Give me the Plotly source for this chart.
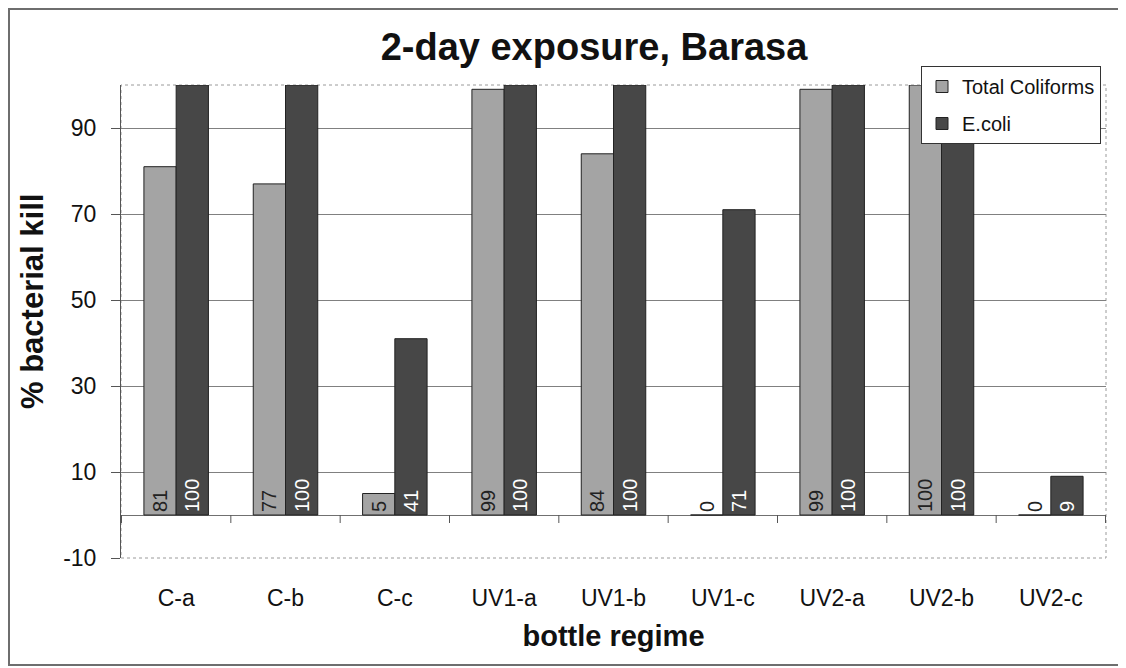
import plotly.graph_objects as go

categories = ["C-a", "C-b", "C-c", "UV1-a", "UV1-b", "UV1-c", "UV2-a", "UV2-b", "UV2-c"]
total_coliforms = [81, 77, 5, 99, 84, 0, 99, 100, 0]
e_coli = [100, 100, 41, 100, 100, 71, 100, 100, 9]
y_ticks = [-10, 10, 30, 50, 70, 90]

FONT = "Liberation Sans, Arial, sans-serif"
OFF = 8  # page body margin
W, H = 1118, 660
PL, PR, PT, PB = 121, 1106, 85, 558  # plot area in page px
L = PL - OFF
T = PT - OFF
R = W - (PR - OFF)
B = H - (PB - OFF)
PW, PH = PR - PL, PB - PT

def px_to_paper_x(px):
    return (px - PL) / PW

def px_to_paper_y(py):
    return (PB - py) / PH

def positions(vals):
    return ["outside" if v == 0 else "inside" for v in vals]

fig = go.Figure()
fig.add_trace(go.Bar(
    name="Total Coliforms", x=categories, y=total_coliforms,
    text=[str(v) for v in total_coliforms], textposition=positions(total_coliforms),
    insidetextanchor="start", textangle=-90,
    textfont=dict(family=FONT, size=20, color="#222222"),
    outsidetextfont=dict(family=FONT, size=20, color="#222222"),
    marker=dict(color="#a4a4a4", line=dict(color="#222222", width=1)),
    legendgroup="a", cliponaxis=False,
))
fig.add_trace(go.Bar(
    name="E.coli", x=categories, y=e_coli,
    text=[str(v) for v in e_coli], textposition=positions(e_coli),
    insidetextanchor="start", textangle=-90,
    textfont=dict(family=FONT, size=20, color="#ffffff"),
    outsidetextfont=dict(family=FONT, size=20, color="#222222"),
    marker=dict(color="#474747", line=dict(color="#222222", width=1)),
    legendgroup="b", cliponaxis=False,
))

shapes = []
# plot area dotted border
shapes.append(dict(type="rect", xref="paper", yref="paper", x0=0, x1=1, y0=0, y1=1,
                   line=dict(color="#9a9a9a", width=1, dash="dot"), layer="below"))
# outer chart border
shapes.append(dict(type="rect", xref="paper", yref="paper",
                   x0=px_to_paper_x(9), x1=px_to_paper_x(1120),
                   y0=px_to_paper_y(665), y1=px_to_paper_y(9),
                   line=dict(color="#6e6e6e", width=2)))
# category boundary tick marks on the zero line
for i in range(len(categories) + 1):
    shapes.append(dict(type="line", xref="x", yref="y", ysizemode="pixel", yanchor=0,
                       x0=i - 0.5, x1=i - 0.5, y0=0, y1=-8,
                       line=dict(color="#555555", width=1)))

fig.update_layout(
    width=W, height=H,
    margin=dict(l=L, r=R, t=T, b=B),
    paper_bgcolor="white", plot_bgcolor="white",
    barmode="group", bargap=0.41, bargroupgap=0,
    font=dict(family=FONT, color="#111111"),
    title=dict(text="<b>2-day exposure, Barasa</b>", x=px_to_paper_x(594), xref="paper",
               xanchor="center", y=1 - (47 - OFF) / H, yanchor="middle",
               font=dict(family=FONT, size=38, color="#111111")),
    legend=dict(x=px_to_paper_x(921), y=px_to_paper_y(66), xanchor="left", yanchor="top",
                bgcolor="white", bordercolor="#333333", borderwidth=1,
                font=dict(family=FONT, size=20, color="#111111"),
                tracegroupgap=8, itemwidth=30),
    shapes=shapes,
    annotations=[dict(text="<b>% bacterial kill</b>", xref="paper", yref="paper",
                      x=px_to_paper_x(32), y=px_to_paper_y(302), xanchor="center",
                      yanchor="middle", textangle=-90, showarrow=False,
                      font=dict(family=FONT, size=31, color="#111111"))],
    showlegend=True,
)
fig.update_xaxes(
    type="category", showgrid=False, showline=False, ticks="", zeroline=False,
    tickfont=dict(family=FONT, size=23, color="#111111"), ticklabelstandoff=24,
    title=dict(text="<b>bottle regime</b>", font=dict(family=FONT, size=29, color="#111111"),
               standoff=15),
)
fig.update_yaxes(
    range=[-10, 100], tickvals=y_ticks, ticktext=[str(v) for v in y_ticks],
    showgrid=True, gridcolor="#808080", gridwidth=1,
    zeroline=True, zerolinecolor="#707070", zerolinewidth=1,
    showline=True, linecolor="#555555", linewidth=1,
    ticks="outside", ticklen=9, tickcolor="#555555", ticklabelstandoff=10,
    tickfont=dict(family=FONT, size=23, color="#111111"),
)

fig.write_html("out.html")
